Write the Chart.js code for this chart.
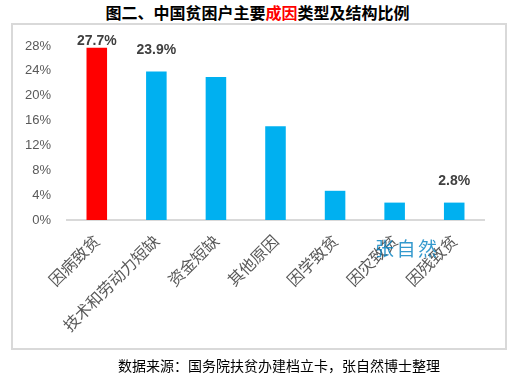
<!DOCTYPE html>
<html>
<head>
<meta charset="utf-8">
<script src="https://cdn.jsdelivr.net/npm/chart.js@4"></script>
<style>
  html, body { margin: 0; padding: 0; background: #fff; width: 515px; height: 383px; overflow: hidden; }
  #title { position: absolute; left: 0; top: 2px; width: 515px; text-align: center;
           font: bold 16px "Noto Sans CJK SC", sans-serif; color: #000; line-height: 20px; }
  #title .red { color: #ff0000; }
  #frame { position: absolute; left: 11px; top: 23px; width: 492px; height: 323px; border: 2px solid #d9d9d9; }
  #wrap { position: absolute; left: 0; top: 0; width: 515px; height: 383px; }
  #source { position: absolute; left: 118px; top: 355px; font: 14px "Noto Sans CJK SC", sans-serif; color: #000; line-height: 20px; }
</style>
</head>
<body>
<div id="title">图二、中国贫困户主要<span class="red">成因</span>类型及结构比例</div>
<div id="frame"></div>
<div id="wrap"><canvas id="c" width="515" height="383"></canvas></div>
<div id="source">数据来源：国务院扶贫办建档立卡，张自然博士整理</div>
<script>
const categories = ["因病致贫", "技术和劳动力短缺", "资金短缺", "其他原因", "因学致贫", "因灾致贫", "因残致贫"];
const values = [27.7, 23.9, 23.0, 15.1, 4.7, 2.8, 2.8];
const barColors = ["#ff0000", "#00b0f0", "#00b0f0", "#00b0f0", "#00b0f0", "#00b0f0", "#00b0f0"];
const labeledIndices = [0, 1, 6];
const yTicks = [0, 4, 8, 12, 16, 20, 24, 28];
const watermark = "张自然";

const labelPlugin = {
  id: 'labels',
  afterDatasetsDraw(chart) {
    const ctx = chart.ctx;
    const meta = chart.getDatasetMeta(0);
    ctx.save();
    ctx.font = 'bold 14px "Liberation Sans", sans-serif';
    ctx.fillStyle = '#404040';
    ctx.textAlign = 'center';
    ctx.textBaseline = 'middle';
    labeledIndices.forEach(i => {
      const el = meta.data[i];
      let y = Math.max(el.y - 21, 41);
      ctx.fillText(values[i].toFixed(1) + '%', el.x, y);
    });
    ctx.restore();
  },
  afterDraw(chart) {
    const ctx = chart.ctx;
    ctx.save();
    ctx.font = '19px "Noto Sans CJK SC", sans-serif';
    ctx.fillStyle = 'rgba(0, 128, 192, 0.8)';
    ctx.textAlign = 'left';
    ctx.textBaseline = 'middle';
    let x = 375;
    for (const ch of watermark) {
      ctx.fillText(ch, x, 249);
      x += 21.5;
    }
    ctx.restore();
  }
};

new Chart(document.getElementById('c'), {
  type: 'bar',
  data: {
    labels: categories,
    datasets: [{ data: values, backgroundColor: barColors, barPercentage: 0.69, categoryPercentage: 0.5 }]
  },
  options: {
    responsive: false,
    animation: false,
    layout: { padding: { top: 46, right: 31, left: 0, bottom: 0 } },
    plugins: { legend: { display: false }, tooltip: { enabled: false } },
    scales: {
      x: {
        grid: { display: false, drawTicks: false },
        border: { display: true, color: '#d9d9d9', width: 2 },
        ticks: { color: '#595959', font: { family: '"Noto Sans CJK SC", sans-serif', size: 16 }, minRotation: 45, maxRotation: 45, padding: 11 },
        afterFit(scale) { scale.height = 163; scale.paddingLeft = 0; scale.paddingRight = 0; }
      },
      y: {
        min: 0, max: 28,
        grid: { display: false, drawTicks: false },
        border: { display: false },
        afterBuildTicks(scale) { scale.ticks = yTicks.map(v => ({ value: v })); },
        ticks: { color: '#595959', font: { family: '"Liberation Sans", sans-serif', size: 13 }, padding: 16,
                 callback: v => v + '%' },
        afterFit(scale) { scale.width = 67; }
      }
    }
  },
  plugins: [labelPlugin]
});
</script>
</body>
</html>
